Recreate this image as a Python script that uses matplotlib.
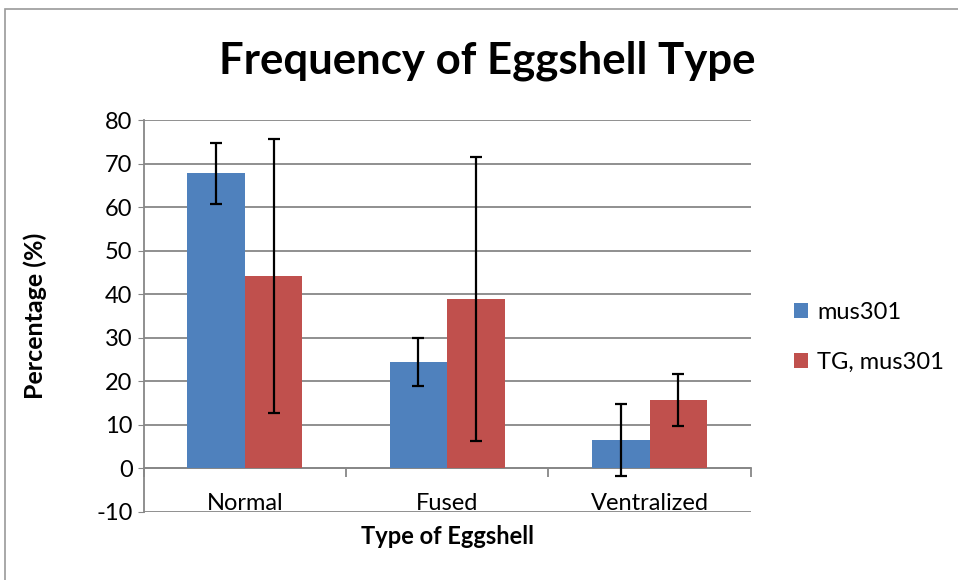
import numpy as np
import matplotlib
matplotlib.use("Agg")
import matplotlib.pyplot as plt
from matplotlib.patches import Rectangle

plt.rcParams["font.family"] = ["Lato", "DejaVu Sans"]
plt.rcParams["axes.unicode_minus"] = False

categories = ["Normal", "Fused", "Ventralized"]
series = ["mus301", "TG, mus301"]
mus301 = [67.8, 24.4, 6.5]
mus301_err = [7.0, 5.5, 8.25]
tg_mus301 = [44.2, 38.9, 15.7]
tg_mus301_err = [31.4, 32.6, 6.0]

blue = "#4F81BD"
red = "#C0504D"
grid_c = "#878787"
fs = 17

fig = plt.figure(figsize=(9.58, 5.8), dpi=100)
ax = fig.add_axes([0.15, 0.1176, 0.6336, 0.675])

# chart-area border like excel
fig.patches.append(Rectangle((5 / 958, -0.1), 1.2, 1 - 9 / 580 + 0.1,
                             transform=fig.transFigure, fill=False,
                             edgecolor="#9a9a9a", lw=1.2))

x = np.arange(len(categories))
w = 0.284
ek = dict(ecolor="black", elinewidth=1.6, capsize=4.3, capthick=1.6)
ax.bar(x - w / 2, mus301, w, color=blue, yerr=mus301_err, error_kw=ek,
       label=series[0], zorder=3)
ax.bar(x + w / 2, tg_mus301, w, color=red, yerr=tg_mus301_err, error_kw=ek,
       label=series[1], zorder=3)

ax.set_xlim(-0.5, len(categories) - 0.5)
ax.set_ylim(-10, 80)
ax.set_yticks(range(-10, 81, 10))
ax.yaxis.grid(True, color=grid_c, lw=1.3, zorder=0)
ax.set_axisbelow(True)
ax.tick_params(axis="y", direction="out", length=4, color=grid_c, labelsize=fs, pad=4)

# category axis crosses at y=0, labels down at the bottom
ax.spines["bottom"].set_position(("data", 0))
ax.spines["bottom"].set_color(grid_c)
ax.spines["bottom"].set_linewidth(1.3)
ax.spines["left"].set_color(grid_c)
ax.spines["left"].set_linewidth(1.3)
ax.spines["top"].set_visible(False)
ax.spines["right"].set_visible(False)
ax.set_xticks(np.arange(-0.5, len(categories), 1.0))
ax.set_xticklabels([])
ax.set_xticks(x, minor=True)
ax.set_xticklabels(categories, minor=True)
ax.tick_params(axis="x", which="major", direction="out", length=6.5, color=grid_c, width=1.3)
ax.tick_params(axis="x", which="minor", length=0, labelsize=fs, pad=18)

ax.set_xlabel("Type of Eggshell", fontsize=fs, fontweight="bold")
ax.xaxis.set_label_coords(0.5, -0.035)
ax.set_ylabel("Percentage (%)", fontsize=fs + 1, fontweight="bold")
ax.yaxis.set_label_coords(-0.16, 0.5)

fig.text(0.509, 0.895, "Frequency of Eggshell Type", ha="center", va="center",
         fontsize=31.5, fontweight="bold")

ax.legend(loc="center left", bbox_to_anchor=(1.055, 0.446), frameon=False,
          fontsize=fs, handlelength=0.6, handleheight=0.6, handletextpad=0.4,
          labelspacing=1.2, borderaxespad=0)

fig.savefig("out.png", dpi=100)
